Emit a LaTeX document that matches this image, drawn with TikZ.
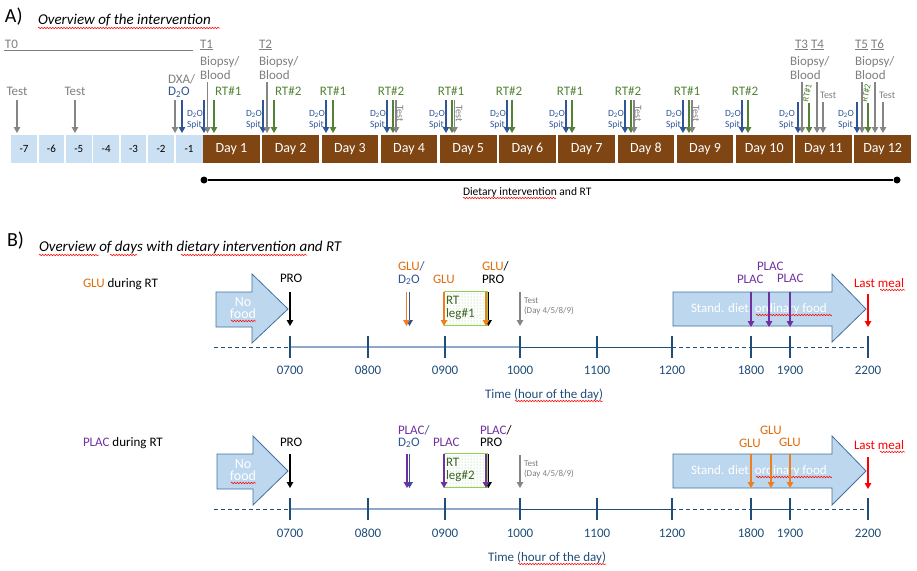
\documentclass[tikz,border=0pt]{standalone}
\usepackage{fontspec}
\setmainfont{Carlito}
\usetikzlibrary{arrows.meta,patterns,decorations.pathmorphing}
\definecolor{cgray}{HTML}{7F7F7F}
\definecolor{cagray}{HTML}{858585}
\definecolor{cblue}{HTML}{2F5597}
\definecolor{cgreen}{HTML}{548235}
\definecolor{corange}{HTML}{F07D1E}
\definecolor{cotext}{HTML}{E26B0A}
\definecolor{cpurple}{HTML}{7030A0}
\definecolor{cdblue}{HTML}{1F4E79}
\definecolor{caxis}{HTML}{8FA9C9}
\definecolor{cdgreen}{HTML}{3B6323}
\definecolor{cdayfill}{HTML}{7F4513}
\definecolor{cprefill}{HTML}{CCE0F3}
\definecolor{cbfill}{HTML}{BDD7EE}
\definecolor{cbdraw}{HTML}{41719C}
\definecolor{crtgreen}{HTML}{8FD17A}
\definecolor{crtedge}{HTML}{92D050}
\newcommand{\fs}[1]{\fontsize{#1}{#1}\selectfont}
\newcommand{\dtwo}{D\textsubscript{2}O}
\newcommand{\va}[5]{\coordinate (#1a) at (#3,#4); \coordinate (#1b) at (#3,#5); \draw[arr,#2] (#1a) -- (#1b);}
\newcommand{\wv}[4]{\coordinate (#1a) at (#2,#4); \coordinate (#1b) at (#3,#4); \draw[wavy] (#1a) -- (#1b);}
\tikzset{
 txt/.style={inner sep=0pt, outer sep=0pt},
 lb/.style={txt, anchor=base west, font=\fs{13}},
 lbc/.style={txt, anchor=base, font=\fs{13}},
 sm/.style={txt, anchor=base west, font=\fs{9.5}, text=cblue},
 arr/.style={-{Triangle[length=6pt,width=6.5pt]}, line width=1.2pt},
 wavy/.style={draw=red, line width=0.5pt, decorate, decoration={snake, amplitude=0.8pt, segment length=2.8pt}},
 prebox/.style={fill=cprefill, minimum height=28pt, inner sep=0pt, anchor=north west, font=\fs{11}},
 daybox/.style={fill=cdayfill, minimum height=28pt, minimum width=56.5pt, inner sep=0pt, anchor=north west, text=white, font=\fs{14}},
 blk/.style={fill=cbfill, draw=cbdraw, line width=0.8pt},
 rtbox/.style={draw=crtedge, line width=0.8pt, fill=white, postaction={pattern=dots, pattern color=crtgreen}},
 tick/.style={draw=cdblue, line width=1.2pt},
 axd/.style={draw=cdblue, line width=1pt, dash pattern=on 4pt off 3pt},
 axs/.style={draw=cdblue, line width=1pt},
 axl/.style={draw=caxis, line width=2.4pt},
 tl/.style={txt, anchor=base, font=\fs{13}, text=cdblue},
}
\begin{document}
\begin{tikzpicture}[x=1pt,y=-1pt]
\useasboundingbox (0,0) rectangle (917,570);
%%%%%%%%%%%%%%%% PART A
\node[txt, anchor=base west, font=\fs{20}] (Alab) at (5,22) {A)};
\node[txt, anchor=base west, font=\fs{15}\itshape] (Atit) at (38,24.5) {Overview of the intervention};
\wv{wa}{38}{220}{28}
% T labels
\node[lb, text=cgray] (T0) at (5,48) {T0};
\coordinate (t0a) at (4,50.5); \coordinate (t0b) at (193,50.5);
\draw[cgray, line width=1.6pt] (t0a) -- (t0b);
\node[lb, text=cgray] (T1) at (200,48) {\underline{T1}};
\node[lb, text=cgray] (T2) at (259,48) {\underline{T2}};
\node[lb, text=cgray] (T3) at (795,48) {\underline{T3}};
\node[lb, text=cgray] (T4) at (811,48) {\underline{T4}};
\node[lb, text=cgray] (T5) at (855,48) {\underline{T5}};
\node[lb, text=cgray] (T6) at (871,48) {\underline{T6}};
\foreach \n/\x in {1/200,2/259,11/790,12/855}{
  \node[lb, text=cgray] (bio\n) at (\x,65) {Biopsy/};
  \node[lb, text=cgray] (blo\n) at (\x,79) {Blood};
}
% pre period labels
\node[lbc, text=cgray] (tst1) at (17,95) {Test};
\node[lbc, text=cgray] (tst2) at (75,95) {Test};
\node[lb, text=cgray] (dxa) at (168,83) {DXA/};
\node[lb, text=cblue] (dxd) at (168,95.5) {\dtwo};
% RT labels
\node[lb, text=cgreen] (rt1) at (215,95) {RT\#1};
\node[lb, text=cgreen] (rt2) at (275,95) {RT\#2};
\foreach \n/\x/\t in {3/333/1,4/391/2,5/451/1,6/509/2,7/570/1,8/628/2,9/687/1,10/745/2}{
  \node[lbc, text=cgreen] (rt\n) at (\x,95) {RT\#\t};
}
\node[txt, rotate=78, font=\fs{9}, text=cgreen] (rt11) at (807,93) {RT\#1};
\node[txt, rotate=78, font=\fs{9}, text=cgreen] (rt12) at (866,93) {RT\#2};
\node[txt, anchor=base west, font=\fs{10}, text=cgray] (tst11) at (820,98) {Test};
\node[txt, anchor=base west, font=\fs{10}, text=cgray] (tst12) at (879,98) {Test};
\foreach \n/\x in {4/400,5/459,8/638,9/696}{
  \node[txt, rotate=-90, font=\fs{10}, text=cgray] (rtst\n) at (\x,114) {Test};
}
% D2O Spit labels
\foreach \n/\x in {1/187,2/246,3/309,4/370,5/429,6/490,7/549,8/608,9/666,10/725,11/779,12/838}{
  \node[sm] (dt\n) at (\x,116) {\dtwo};
  \node[sm] (sp\n) at (\x,127) {Spit};
}
% arrows
\va{ta}{cagray}{17}{100}{133}
\va{tb}{cagray}{75}{100}{133}
\va{dxg}{cagray}{175}{100}{133}
\va{dxb}{cblue}{182}{100}{133}
\foreach \n/\b/\g in {1/204/214,2/263/274,3/326/333,4/387/393,5/446/452,6/507/512,7/566/572,8/625/631,9/683/689,10/742/748}{
  \va{bl\n}{cblue}{\b}{100}{133}
  \va{gr\n}{cgreen}{\g}{100}{133}
}
\va{bi1}{cagray}{207.5}{82}{133}
\va{bi2}{cagray}{267}{82}{133}
\foreach \n/\x in {4/396,5/454.5,8/634,9/692}{
  \va{gt\n}{cagray}{\x}{100}{133}
}
\va{bl11}{cblue}{798}{102}{133}
\va{ga11}{cagray}{802}{82}{133}
\va{gr11}{cgreen}{809}{103}{133}
\va{gb11}{cagray}{817}{82}{133}
\va{gc11}{cagray}{823}{102}{133}
\va{bl12}{cblue}{857}{102}{133}
\va{ga12}{cagray}{862}{82}{133}
\va{gr12}{cgreen}{868}{103}{133}
\va{gb12}{cagray}{875}{82}{133}
\va{gc12}{cagray}{883}{102}{133}
% day boxes
\foreach \n/\x in {7/11,6/38.4,5/65.8,4/93.2,3/120.6,2/148}{
  \node[prebox, minimum width=25.6pt] (pre\n) at (\x,135) {-\n};
}
\node[prebox, minimum width=27pt] (pre1) at (175.4,135) {-1};
\foreach \k in {1,...,12}{
  \pgfmathsetmacro\xl{203+(\k-1)*59.2}
  \node[daybox] (day\k) at (\xl,135) {Day \k};
}
% dietary line
\node[circle, fill=black, inner sep=0pt, minimum size=7pt] (dl) at (204,180) {};
\node[circle, fill=black, inner sep=0pt, minimum size=7pt] (dr) at (897,180) {};
\draw[line width=1.2pt] (dl) -- (dr);
\node[txt, anchor=base west, font=\fs{11.5}] (diet) at (463,195) {Dietary intervention and RT};
\wv{wd}{463}{556}{198}
%%%%%%%%%%%%%%%% PART B
\node[txt, anchor=base west, font=\fs{20}] (Blab) at (7,246) {B)};
\node[txt, anchor=base west, font=\fs{15}\itshape] (Btit) at (39,251.5) {Overview of days with dietary intervention and RT};
\wv{wb1}{39}{99}{255}
\wv{wb2}{110}{137}{255}
\wv{wb3}{181}{307}{255}
% ---- row 1
\node[lb] (r1lab) at (83,287) {{\color{cotext}GLU} during RT};
\draw[blk] (216,292) coordinate (nf1a) -- (252,292) -- (252,274) -- (288,309) coordinate (nf1tip) -- (252,343) -- (252,327) -- (216,327) -- cycle;
\node[txt, anchor=base, font=\fs{14}, text=white] (no1) at (243,306) {No};
\node[txt, anchor=base, font=\fs{14}, text=white] (fo1) at (243,318) {food};
\wv{wf1}{231}{256}{321}
\draw[blk] (673,292) coordinate (sd1a) -- (832,292) -- (832,274) -- (866,309) coordinate (sd1tip) -- (832,342) -- (832,326) -- (673,326) -- cycle;
\node[txt, anchor=base west, font=\fs{13}, text=white] (sd1) at (691,312) {Stand. diet, ordinary food};
\wv{ws1}{756}{832}{315}
\draw[rtbox] (444,291) rectangle (487,325);
\node[lb, text=cdgreen] (rtl1a) at (446,304) {RT};
\node[lb, text=cdgreen] (rtl1b) at (446,317) {leg\#1};
\node[lb] (pro1) at (280,282) {PRO};
\node[lb] (gd1) at (398,270) {{\color{cotext}GLU}{\color{cblue}/}};
\node[lb, text=cblue] (gd1b) at (398,283) {\dtwo};
\node[lb, text=cotext] (gl1) at (433,283) {GLU};
\node[lb] (gp1) at (482,270) {{\color{cotext}GLU}/};
\node[lb] (gp1b) at (482,283) {PRO};
\node[txt, anchor=base west, font=\fs{9}, text=cgray] (ts1) at (524,303) {Test};
\node[txt, anchor=base west, font=\fs{9}, text=cgray] (ts1b) at (524,313) {(Day 4/5/8/9)};
\node[lb, text=cpurple] (pl1a) at (737,283) {PLAC};
\node[lb, text=cpurple] (pl1b) at (757,270) {PLAC};
\node[lb, text=cpurple] (pl1c) at (777,282) {PLAC};
\node[lb, text=red] (lm1) at (854,287) {Last meal};
\wv{wm1}{880}{905}{290}
\va{apro1}{black}{290}{292}{326}
\va{ab1}{cblue}{409.5}{292}{326}
\va{ao1}{corange}{406.5}{292}{326}
\va{ag1}{corange}{444}{292}{326}
\va{ak1}{black}{488.5}{292}{326}
\va{aq1}{corange}{486}{292}{326}
\va{at1}{cagray}{520}{292}{326}
\va{ap1a}{cpurple}{751}{292}{327}
\va{ap1b}{cpurple}{769}{292}{327}
\va{ap1c}{cpurple}{790}{292}{327}
\va{alm1}{red}{868}{294}{327}
% axis row 1
\coordinate (x1s) at (214,347);
\foreach \n/\x in {07/290,08/368,09/445,10/520,11/597,12/672,18/751,19/790,22/868}{
  \coordinate (k1\n) at (\x,347);
}
\draw[axd] (x1s) -- (k107);
\draw[axl] (k107) -- (k110);
\draw[axs] (k110) -- (k112);
\draw[axd] (k112) -- (k118);
\draw[axs] (k118) -- (k119);
\draw[axd] (k119) -- (k122);
\foreach \n/\x in {07/290,08/368,09/445,10/520,11/597,12/672,18/751,19/790,22/868}{
  \coordinate (m1\n a) at (\x,336); \coordinate (m1\n b) at (\x,358);
  \draw[tick] (m1\n a) -- (m1\n b);
  \node[tl] (l1\n) at (\x,374) {\n00};
}
\node[lb, text=cdblue] (time1) at (485,398) {Time (hour of the day)};
\wv{wt1}{515}{603}{401}
% ---- row 2
\node[lb] (r2lab) at (83,446) {{\color{cpurple}PLAC} during RT};
\draw[blk] (217,454) coordinate (nf2a) -- (253,454) -- (253,436) -- (288,471) coordinate (nf2tip) -- (253,505) -- (253,489) -- (217,489) -- cycle;
\node[txt, anchor=base, font=\fs{14}, text=white] (no2) at (243,468) {No};
\node[txt, anchor=base, font=\fs{14}, text=white] (fo2) at (243,480) {food};
\wv{wf2}{231}{256}{483}
\draw[blk] (673,454) coordinate (sd2a) -- (832,454) -- (832,436) -- (866,471) coordinate (sd2tip) -- (832,505) -- (832,488) -- (673,488) -- cycle;
\node[txt, anchor=base west, font=\fs{13}, text=white] (sd2) at (691,474) {Stand. diet, ordinary food};
\wv{ws2}{756}{832}{477}
\draw[rtbox] (444,453) rectangle (487,487);
\node[lb, text=cdgreen] (rtl2a) at (446,466) {RT};
\node[lb, text=cdgreen] (rtl2b) at (446,479) {leg\#2};
\node[lb] (pro2) at (280,446) {PRO};
\node[lb] (pd2) at (398,434) {{\color{cpurple}PLAC}{\color{cblue}/}};
\node[lb, text=cblue] (pd2b) at (398,446) {\dtwo};
\node[lb, text=cpurple] (pl2) at (433,446) {PLAC};
\node[lb] (pp2) at (480,434) {{\color{cpurple}PLAC}/};
\node[lb] (pp2b) at (480,446) {PRO};
\node[txt, anchor=base west, font=\fs{9}, text=cgray] (ts2) at (524,466) {Test};
\node[txt, anchor=base west, font=\fs{9}, text=cgray] (ts2b) at (524,476) {(Day 4/5/8/9)};
\node[lb, text=cotext] (gl2a) at (739,447) {GLU};
\node[lb, text=cotext] (gl2b) at (760,434) {GLU};
\node[lb, text=cotext] (gl2c) at (779,446) {GLU};
\node[lb, text=red] (lm2) at (854,449) {Last meal};
\wv{wm2}{880}{905}{452}
\va{apro2}{black}{290}{454}{488}
\va{ab2}{cblue}{409.5}{454}{488}
\va{ao2}{cpurple}{407}{454}{488}
\va{ag2}{cpurple}{444}{454}{488}
\va{ak2}{black}{488.5}{454}{488}
\va{aq2}{cpurple}{486}{454}{488}
\va{at2}{cagray}{520}{455}{488}
\va{ap2a}{corange}{751}{454}{488}
\va{ap2b}{corange}{771}{454}{488}
\va{ap2c}{corange}{790}{454}{488}
\va{alm2}{red}{868}{457}{489}
% axis row 2
\coordinate (x2s) at (214,509);
\foreach \n/\x in {07/290,08/368,09/445,10/520,11/597,12/672,18/751,19/790,22/868}{
  \coordinate (k2\n) at (\x,509);
}
\draw[axd] (x2s) -- (k207);
\draw[axl] (k207) -- (k210);
\draw[axs] (k210) -- (k212);
\draw[axd] (k212) -- (k218);
\draw[axs] (k218) -- (k219);
\draw[axd] (k219) -- (k222);
\foreach \n/\x in {07/290,08/368,09/445,10/520,11/597,12/672,18/751,19/790,22/868}{
  \coordinate (m2\n a) at (\x,498); \coordinate (m2\n b) at (\x,520);
  \draw[tick] (m2\n a) -- (m2\n b);
  \node[tl] (l2\n) at (\x,537) {\n00};
}
\node[lb, text=cdblue] (time2) at (488,561) {Time (hour of the day)};
\wv{wt2}{518}{606}{564}
\end{tikzpicture}
\end{document}
